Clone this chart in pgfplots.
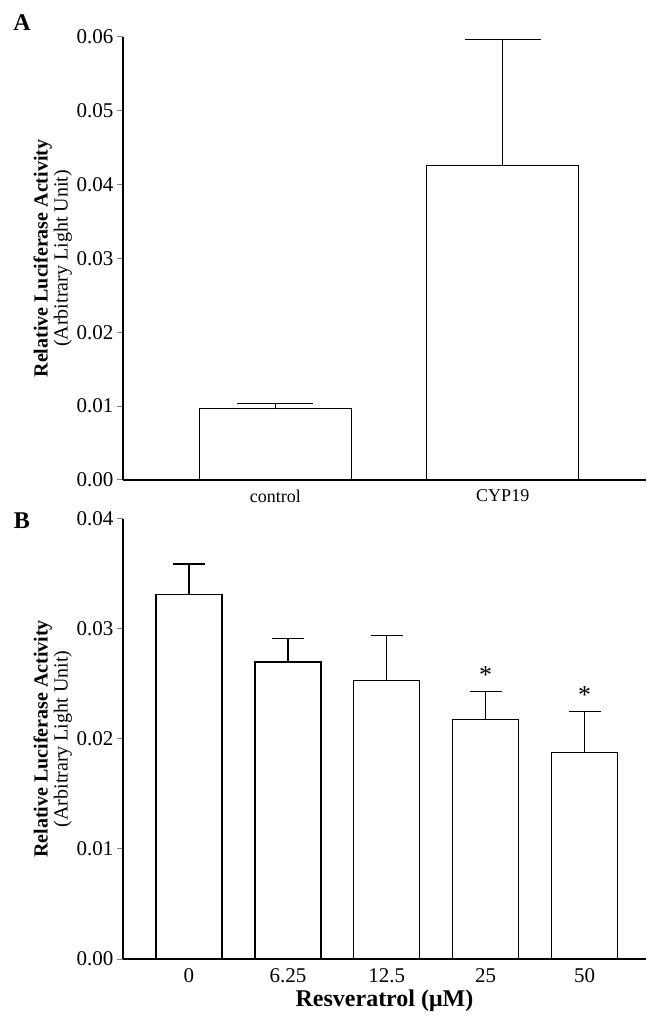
\documentclass[border=0pt]{standalone}
\usepackage{pgfplots}
\pgfplotsset{compat=1.18}
\usepackage{fontspec}
\setmainfont{Liberation Serif}
\begin{document}
\begin{tikzpicture}[x=1pt,y=1pt]
\useasboundingbox (0,0) rectangle (646,1017);
\pgfplotsset{myax/.style={
  scale only axis, width=523pt,
  axis x line=bottom, axis y line=left,
  axis line style={-, line width=1.2pt},
  ybar, ymin=0,
  xtick=data, xtick style={draw=none},
  ytick style={line width=1pt}, tick align=outside, major tick length=6pt,
  yticklabel style={/pgf/number format/fixed,/pgf/number format/fixed zerofill,/pgf/number format/precision=2},
  /pgf/number format/assume math mode=true,
  ticklabel style={font=\fontsize{21}{22}\selectfont},
  scaled y ticks=false,
  ylabel style={align=center, font=\fontsize{20}{20}\selectfont, yshift=-2pt},
  ylabel={\textbf{Relative Luciferase Activity}\\(Arbitrary Light Unit)},
}}
\begin{axis}[myax, at={(123pt,537pt)}, height=443pt, ymax=0.06,
  ytick={0,0.01,...,0.06}, xmin=-0.67, xmax=1.63, bar width=152pt,
  xticklabels={control,CYP19},
  xticklabel style={font=\fontsize{18}{18}\selectfont}]
\addplot[draw=black, fill=white, line width=1.2pt,
  error bars/.cd, y dir=plus, y explicit,
  error mark options={rotate=90, mark size=38pt, line width=1.2pt},
  error bar style={line width=1.2pt}]
  coordinates {(0,0.0097) +- (0,0.0007) (1,0.0426) +- (0,0.0171)};
\node[font=\fontsize{28}{28}\selectfont] at (axis cs:1,0.0622) {*};
\end{axis}
\node[font=\bfseries\fontsize{24}{24}\selectfont] at (22,994) {A};
\begin{axis}[myax, at={(123pt,58pt)}, height=440pt, ymax=0.04,
  ytick={0,0.01,...,0.04}, xmin=-0.667, xmax=4.62, bar width=66pt,
  xticklabels={0,6.25,12.5,25,50},
  xlabel={\textbf{Resveratrol (μM)}},
  xlabel style={font=\fontsize{24}{24}\selectfont}]
\addplot[draw=black, fill=white, line width=1.2pt,
  error bars/.cd, y dir=plus, y explicit,
  error mark options={rotate=90, mark size=16pt, line width=1.2pt},
  error bar style={line width=1.2pt}]
  coordinates {(0,0.0331) +- (0,0.0028) (1,0.0270) +- (0,0.0021) (2,0.0253) +- (0,0.0041) (3,0.0218) +- (0,0.0025) (4,0.0188) +- (0,0.0037)};
\node[font=\fontsize{26}{26}\selectfont] at (axis cs:3,0.0258) {*};
\node[font=\fontsize{26}{26}\selectfont] at (axis cs:4,0.0240) {*};
\end{axis}
\node[font=\bfseries\fontsize{24}{24}\selectfont] at (22,496) {B};
\end{tikzpicture}
\end{document}
